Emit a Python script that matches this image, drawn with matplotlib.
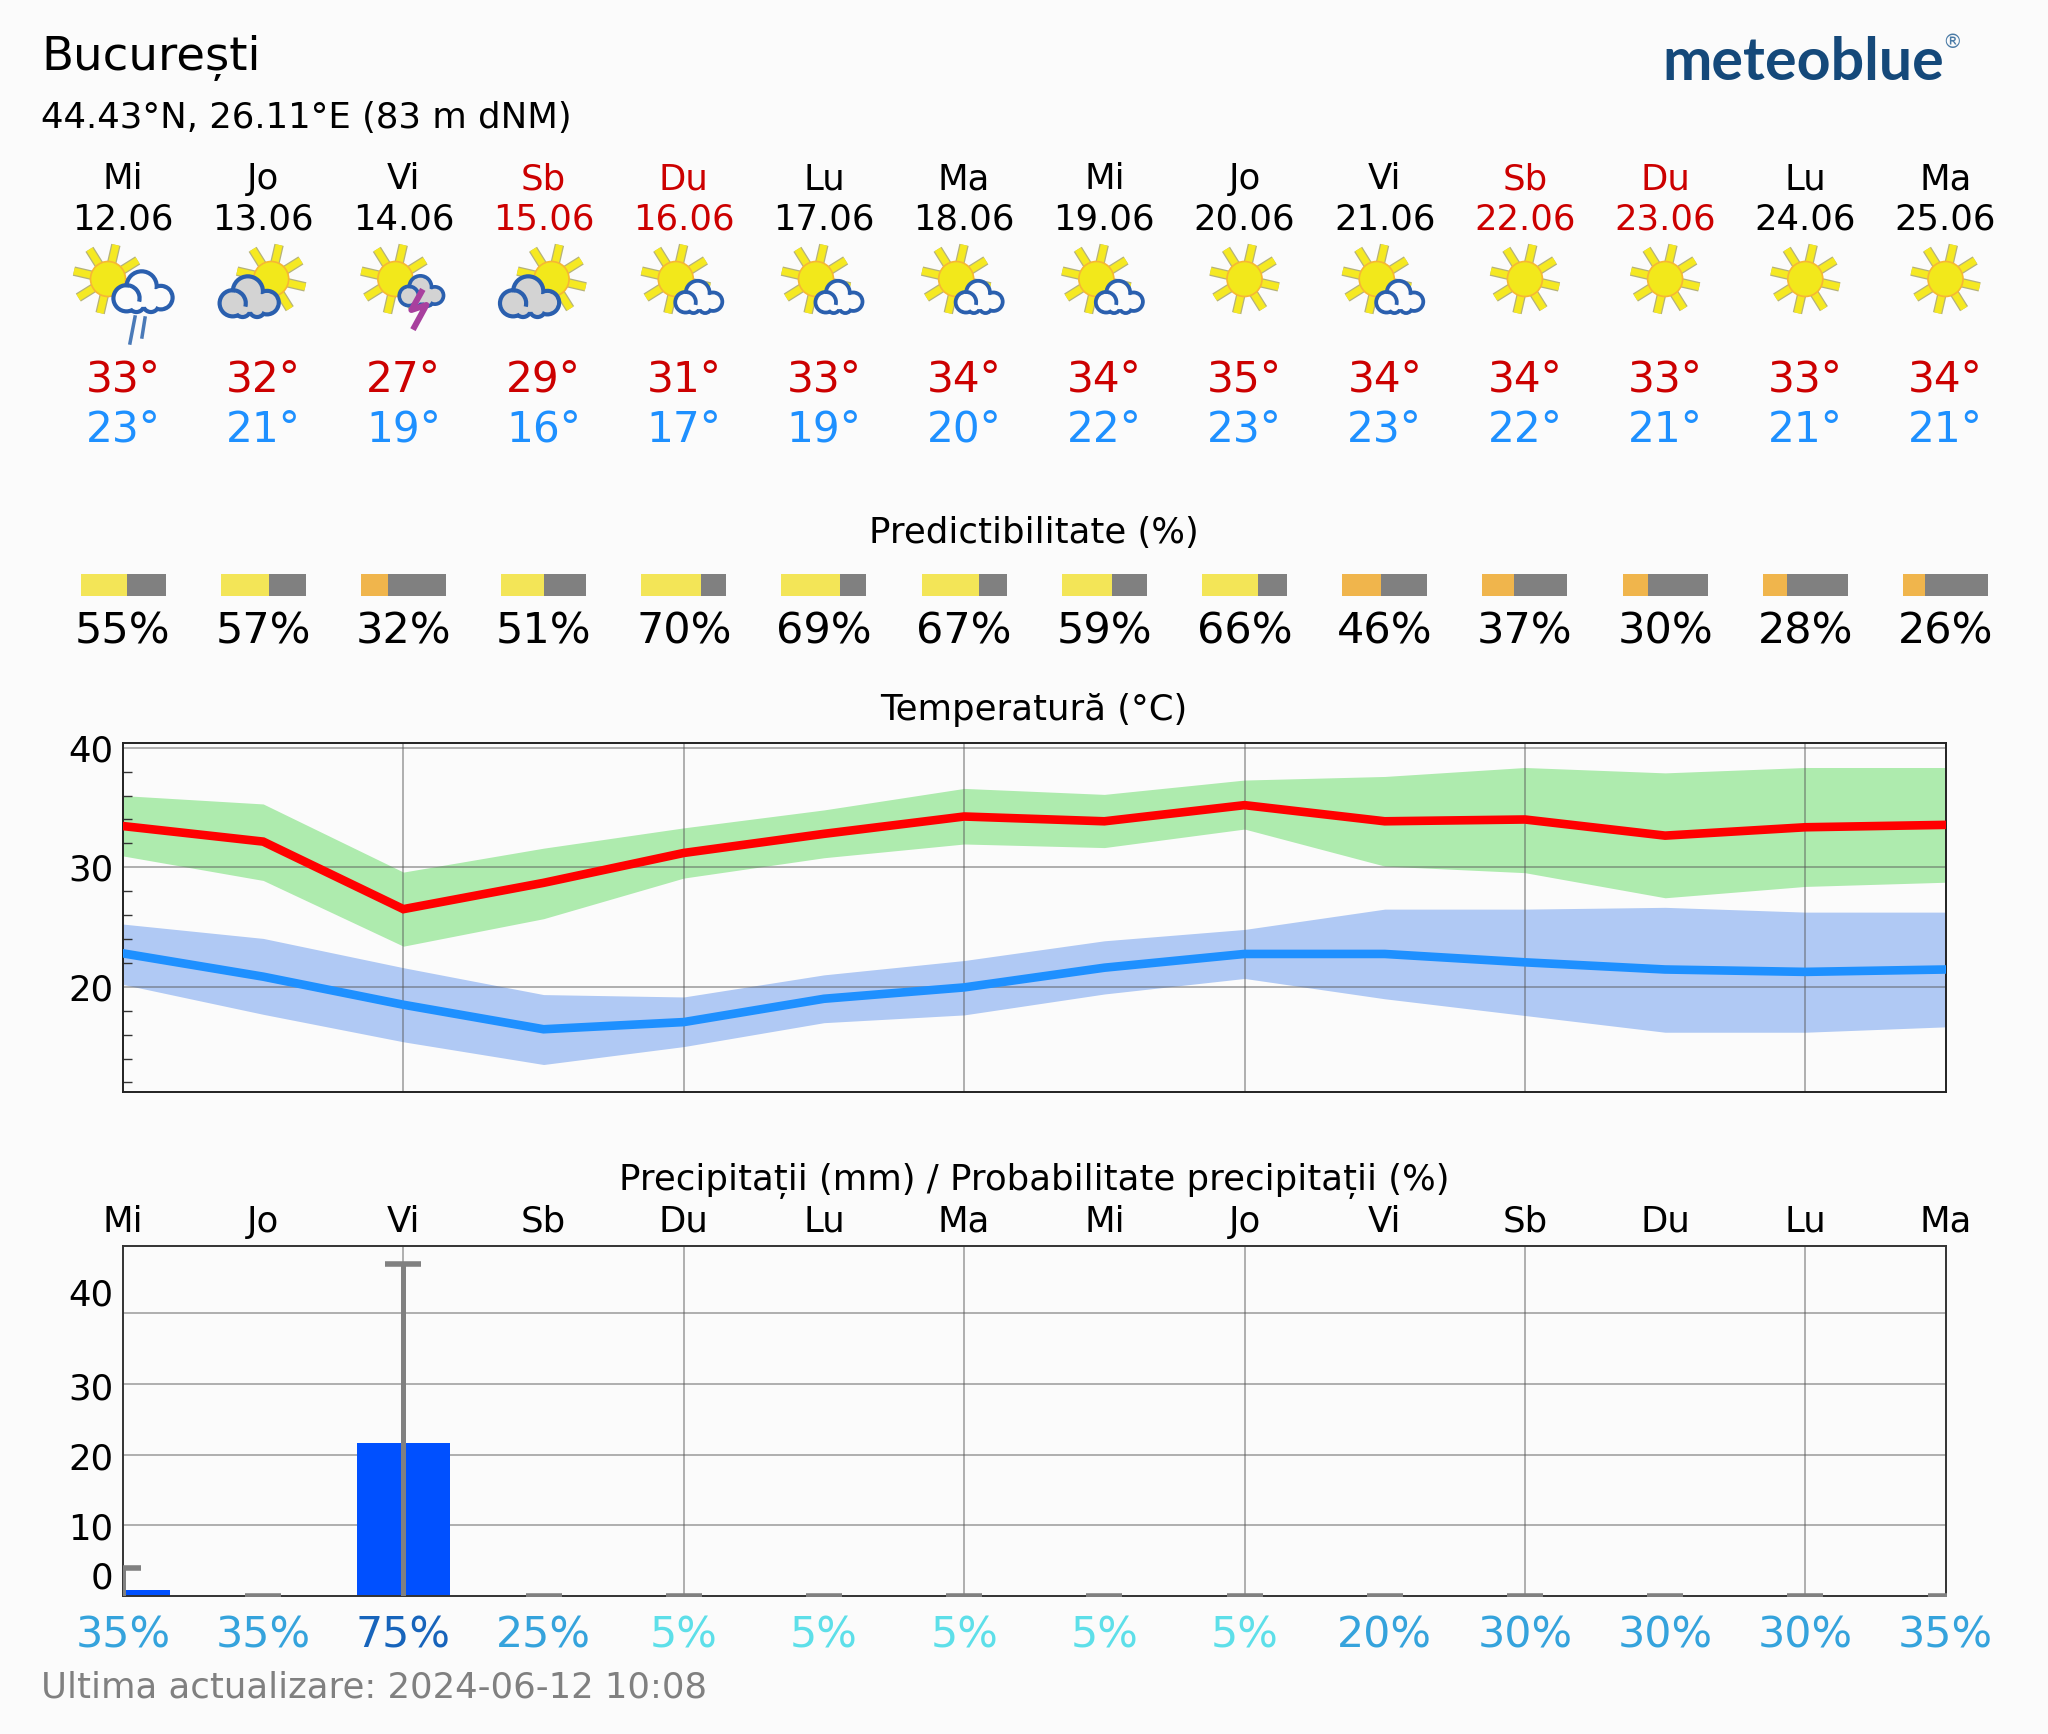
#!/usr/bin/env python
# -*- coding: utf-8 -*-

# 14 day forecast Bucuresti

import numpy as np
import matplotlib
matplotlib.use("Agg")
import matplotlib.pyplot as plt
from matplotlib.patches import Circle, Arc, Ellipse

days = ["Mi", "Jo", "Vi", "Sb", "Du", "Lu", "Ma", "Mi", "Jo", "Vi", "Sb", "Du", "Lu", "Ma"]
dates = ["12.06", "13.06", "14.06", "15.06", "16.06", "17.06", "18.06",
         "19.06", "20.06", "21.06", "22.06", "23.06", "24.06", "25.06"]
icons = ["rain", "grey", "storm", "grey", "small", "small", "small",
         "small", "clear", "small", "clear", "clear", "clear", "clear"]
maxLabels = [33, 32, 27, 29, 31, 33, 34, 34, 35, 34, 34, 33, 33, 34]
minLabels = [23, 21, 19, 16, 17, 19, 20, 22, 23, 23, 22, 21, 21, 21]
predict = [55, 57, 32, 51, 70, 69, 67, 59, 66, 46, 37, 30, 28, 26]

tMax = [33.45, 32.15, 26.5, 28.7, 31.2, 32.8, 34.25, 33.85, 35.2, 33.85, 34.0, 32.65, 33.35, 33.55]
tMaxHigh = [36.0, 35.3, 29.6, 31.6, 33.3, 34.8, 36.6, 36.1, 37.3, 37.6, 38.35, 37.9, 38.35, 38.35]
tMaxLow = [30.95, 28.9, 23.4, 25.7, 29.1, 30.8, 31.95, 31.65, 33.2, 30.1, 29.55, 27.45, 28.4, 28.75]
tMin = [22.8, 20.85, 18.5, 16.45, 17.05, 19.0, 19.95, 21.6, 22.75, 22.75, 22.05, 21.45, 21.25, 21.45]
tMinHigh = [25.25, 24.05, 21.6, 19.35, 19.15, 21.0, 22.2, 23.85, 24.8, 26.5, 26.5, 26.65, 26.25, 26.25]
tMinLow = [20.2, 17.7, 15.4, 13.5, 15.0, 17.0, 17.65, 19.4, 20.7, 19.0, 17.6, 16.2, 16.2, 16.65]

rain = [0.8, 0, 21.6, 0, 0, 0, 0, 0, 0, 0, 0, 0, 0, 0]
rainHigh = [4.0, 0, 47.0, 0, 0, 0, 0, 0, 0, 0, 0, 0, 0, 0]
rainProb = [35, 35, 75, 25, 5, 5, 5, 5, 5, 20, 30, 30, 30, 35]

W, H = 2048, 1734
DPI = 200
BG = "#fbfbfb"
RED = "#cc0000"
X0, X1 = 123.0, 1945.5
step = (X1 - X0) / 13.0
PX = 72.0 / DPI
FS = 12.8

plt.rcParams["font.family"] = "DejaVu Sans"
fig = plt.figure(figsize=(W / DPI, H / DPI), dpi=DPI, facecolor=BG)

# overlay in pixel coordinates for the header stuff
ov = fig.add_axes([0, 0, 1, 1], zorder=0)
ov.set_xlim(0, W)
ov.set_ylim(H, 0)
ov.axis("off")


def cloud(cx, cy, w, face):
    edge = "#2a5fae"
    lobes = [(-0.25, 0.08, 0.23), (-0.02, -0.1, 0.26), (0.27, 0.07, 0.21),
             (-0.1, 0.17, 0.15), (0.12, 0.17, 0.15)]
    lw = 2.2 + w * 0.03
    for lx, ly, r in lobes:
        ov.add_patch(Circle((cx + lx * w, cy + ly * w), r * w, fc=edge, lw=0, zorder=4))
    for lx, ly, r in lobes:
        ov.add_patch(Circle((cx + lx * w, cy + ly * w), r * w - lw, fc=face, lw=0, zorder=5))
    ov.add_patch(Ellipse((cx, cy + 0.06 * w), 0.6 * w, 0.3 * w, fc=face, lw=0, zorder=5))
    r = 2 * (0.23 * w - lw / 2)
    ov.add_patch(Arc((cx - 0.25 * w, cy + 0.08 * w), r, r, theta1=265, theta2=15,
                     ec=edge, lw=lw * PX, zorder=6))


def sun(cx, cy):
    for k in range(8):
        a = np.radians(13 + 45 * k)
        xs = [cx + 17 * np.sin(a), cx + 35 * np.sin(a)]
        ys = [cy - 17 * np.cos(a), cy - 35 * np.cos(a)]
        ov.plot(xs, ys, color="#b5b27a", lw=9.5 * PX, solid_capstyle="butt", zorder=2)
        ov.plot(xs, ys, color="#f5e922", lw=7 * PX, solid_capstyle="butt", zorder=2.1)
    ov.add_patch(Circle((cx, cy), 17.5, fc="#f2e81b", ec="#f7b733", lw=0.6, zorder=3))


def icon(kind, x):
    y = 279
    if kind == "clear":
        sun(x, y)
    elif kind == "small":
        sun(x - 8, y)
        cloud(x + 15, y + 19, 53, BG)
    elif kind == "grey":
        sun(x + 8, y)
        cloud(x - 14, y + 19, 66, "#d3d3d3")
    elif kind == "storm":
        sun(x - 8, y)
        cloud(x + 18, y + 13, 50, "#d3d3d3")
        ov.plot([x + 18, x + 8, x + 23, x + 11], [y + 13, y + 31, y + 26, y + 48],
                color="#a8409e", lw=6 * PX, zorder=7)
    elif kind == "rain":
        sun(x - 15, y)
        cloud(x + 20, y + 14, 66, BG)
        ov.plot([x + 12, x + 7], [y + 38, y + 64], color="#4a7ab8", lw=3.5 * PX, zorder=7)
        ov.plot([x + 22, x + 19], [y + 39, y + 58], color="#4a7ab8", lw=3.5 * PX, zorder=7)


xDays = X0 + step * np.arange(len(days))

ov.text(41, 70, "București", fontsize=16.8, va="baseline", ha="left", color="black")
ov.text(41, 128, "44.43°N, 26.11°E (83 m dNM)", fontsize=FS, va="baseline", ha="left", color="black")
ov.text(1662, 80, "meteoblue", fontsize=21.3, family="Lato", weight="bold", color="#15497a",
        va="baseline", ha="left")
ov.text(1952, 42, "®", fontsize=7, color="#4a7ba6", va="center", ha="center")

for i in range(len(days)):
    col = RED if days[i] in ("Sb", "Du") else "black"
    ov.text(xDays[i], 189, days[i], fontsize=FS, color=col, ha="center", va="baseline")
    ov.text(xDays[i], 229, dates[i], fontsize=FS, color=col, ha="center", va="baseline")
    icon(icons[i], xDays[i])
    ov.text(xDays[i], 392, str(maxLabels[i]) + "°", fontsize=15.2, color=RED, ha="center", va="baseline")
    ov.text(xDays[i], 442, str(minLabels[i]) + "°", fontsize=15.2, color="#1e90ff", ha="center", va="baseline")

# Predictability bars
barW = 85.0
ov.text(1034, 543, "Predictibilitate (%)", fontsize=FS, ha="center", va="baseline")
pred = np.array(predict) / 100.0
barCols = ["#f3e557" if p >= 50 else "#f0b54c" for p in predict]
ov.barh(585, pred * barW, left=xDays - barW / 2, height=22, color=barCols, lw=0)
ov.barh(585, (1 - pred) * barW, left=xDays - barW / 2 + pred * barW, height=22, color="#808080", lw=0)
for i in range(len(days)):
    ov.text(xDays[i], 643, str(predict[i]) + "%", fontsize=15.5, color="black", ha="center", va="baseline")


def make_axes(top, bottom):
    return fig.add_axes([X0 / W, 1 - bottom / H, (X1 - X0) / W, (bottom - top) / H], zorder=1, facecolor="none")


xIdx = np.arange(len(days))
gridCol = "#55555588"

# Temperature
ax = make_axes(743, 1092)
ax.fill_between(xIdx, tMaxLow, tMaxHigh, color="#aeebae", lw=0, zorder=1)
ax.fill_between(xIdx, tMinLow, tMinHigh, color="#b0c9f4", lw=0, zorder=1)
ax.vlines(xIdx[2::2], 0, 50, color=gridCol, lw=0.6, zorder=2)
ax.hlines([20, 30, 40], 0, 13, color=gridCol, lw=0.6, zorder=2)
ax.plot(xIdx, tMax, color="#ff0000", lw=3.1, zorder=3, solid_joinstyle="miter")
ax.plot(xIdx, tMin, color="#1e90ff", lw=3.1, zorder=3, solid_joinstyle="miter")
ax.set_xlim(0, 13)
ax.set_ylim(11.2, 40.4)
ax.set_xticks([])
ax.set_yticks([20, 30, 40])
ax.set_yticks(np.arange(12, 40, 2), minor=True)
ax.tick_params(axis="y", which="major", length=0, pad=3.4, labelsize=FS)
ax.tick_params(axis="y", which="minor", direction="in", length=3.2, width=0.5, color="#333333")
for s in ax.spines.values():
    s.set_linewidth(0.7)
    s.set_color("#222222")
ov.text(1034, 720, "Temperatură (°C)", fontsize=FS, ha="center", va="baseline")

# Precipitation
ax2 = make_axes(1246, 1596)
ax2.vlines(xIdx[2::2], 0, 60, color=gridCol, lw=0.6, zorder=1)
ax2.hlines([10, 20, 30, 40], 0, 13, color=gridCol, lw=0.6, zorder=1)
ax2.bar(xIdx, rain, width=0.665, color="#0050ff", lw=0, zorder=2)
ax2.vlines(xIdx, 0, rainHigh, color="#808080", lw=1.8, zorder=3)
ax2.plot(xIdx, rainHigh, linestyle="none", marker="_", ms=13, mew=2.0, color="#808080", zorder=3)
ax2.set_xlim(0, 13)
ax2.set_ylim(0, 49.5)
ax2.set_xticks([])
ax2.set_yticks([3.0, 9.9, 19.8, 29.7, 43.0], ["0", "10", "20", "30", "40"])
ax2.tick_params(axis="y", length=0, pad=3.4, labelsize=FS)
for s in ax2.spines.values():
    s.set_linewidth(0.7)
    s.set_color("#333333")

ov.text(1034, 1190, "Precipitații (mm) / Probabilitate precipitații (%)", fontsize=FS, ha="center", va="baseline")
for i in range(len(days)):
    ov.text(xDays[i], 1232, days[i], fontsize=FS, color="black", ha="center", va="baseline")
    p = rainProb[i]
    probCol = "#1764bb" if p >= 70 else ("#5ddfe9" if p <= 10 else "#35a3dc")
    ov.text(xDays[i], 1647, str(p) + "%", fontsize=15.4, color=probCol, ha="center", va="baseline")

ov.text(41, 1698, "Ultima actualizare: 2024-06-12 10:08", fontsize=FS, color="#808080", ha="left", va="baseline")

plt.savefig("out.png", dpi=DPI, facecolor=BG)
